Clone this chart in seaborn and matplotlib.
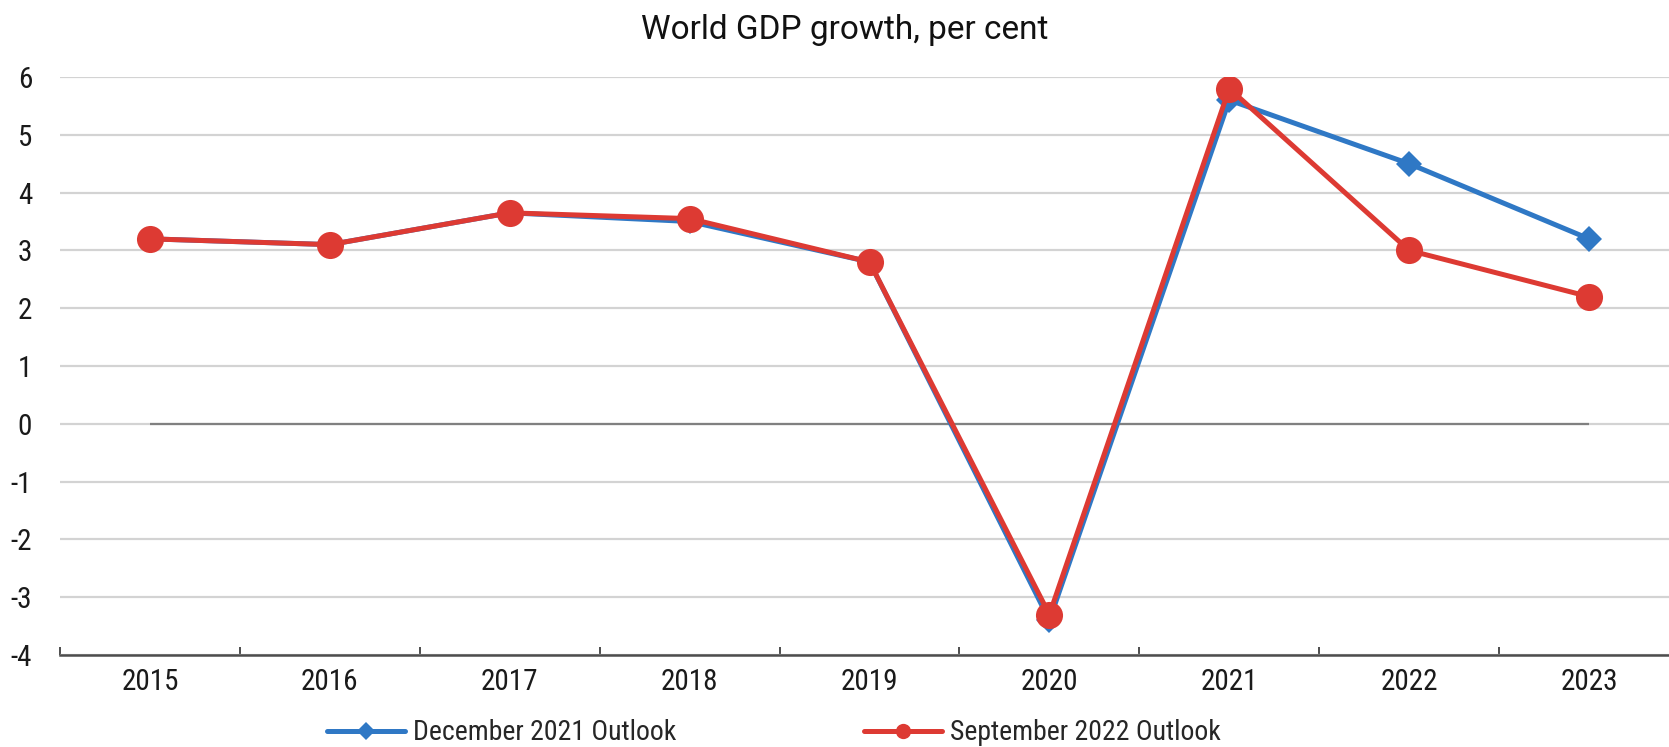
import matplotlib
matplotlib.use("Agg")
import matplotlib.pyplot as plt
from matplotlib.lines import Line2D
from matplotlib.ticker import FixedLocator
import seaborn as sns
import pandas as pd

# World GDP growth (per cent) by year, two OECD outlook vintages
years = ["2015", "2016", "2017", "2018", "2019", "2020", "2021", "2022", "2023"]
dec_2021 = [3.2, 3.1, 3.65, 3.5, 2.8, -3.4, 5.6, 4.5, 3.2]
sep_2022 = [3.2, 3.1, 3.65, 3.55, 2.8, -3.3, 5.8, 3.0, 2.2]
series_names = ["December 2021 Outlook", "September 2022 Outlook"]
y_ticks = [-4, -3, -2, -1, 0, 1, 2, 3, 4, 5, 6]
title = "World GDP growth, per cent"

BLUE = "#2F78C5"
RED = "#DD3A33"

sns.set_theme(style="white")
plt.rcParams["font.family"] = ["Roboto Condensed", "Liberation Sans", "DejaVu Sans"]

positions = list(range(len(years)))
df = pd.DataFrame({
    "pos": positions * 2,
    "growth": dec_2021 + sep_2022,
    "outlook": [series_names[0]] * len(years) + [series_names[1]] * len(years),
})

W, H = 1669, 747
fig = plt.figure(figsize=(W / 100, H / 100), dpi=100)
ax = fig.add_axes([60 / W, 92 / H, 1619 / W, 578 / H])

# zero reference line spanning first to last year
ax.hlines(0, positions[0], positions[-1], color="#808080", lw=1.6, zorder=1.5)

sns.lineplot(data=df[df.outlook == series_names[0]], x="pos", y="growth",
             color=BLUE, lw=3.6, marker="D", markersize=13, markeredgewidth=0,
             ax=ax, legend=False, zorder=3)
sns.lineplot(data=df[df.outlook == series_names[1]], x="pos", y="growth",
             color=RED, lw=3.6, marker="o", markersize=19.5, markeredgewidth=0,
             ax=ax, legend=False, zorder=4)

ax.set_xlim(-0.5, len(years) - 0.5)
ax.set_ylim(y_ticks[0], y_ticks[-1])
ax.set_xlabel("")
ax.set_ylabel("")

ax.set_xticks(positions)
ax.set_xticklabels(years)
ax.xaxis.set_minor_locator(FixedLocator([p - 0.5 for p in positions] + [positions[-1] + 0.5]))
ax.tick_params(axis="x", which="major", length=0, pad=9, labelsize=21, labelcolor="#1a1a1a")
ax.tick_params(axis="x", which="minor", direction="in", length=6, width=1.4, color="#4d4d4d", bottom=True)

ax.set_yticks(y_ticks)
ax.set_yticklabels([str(v) for v in y_ticks])
ax.tick_params(axis="y", length=0, pad=20, labelsize=21, labelcolor="#1a1a1a")

ax.yaxis.grid(True, color="#d3d3d3", lw=1.6)
ax.xaxis.grid(False)
ax.set_axisbelow(True)
for side in ["left", "right", "top"]:
    ax.spines[side].set_visible(False)
ax.spines["bottom"].set_color("#4d4d4d")
ax.spines["bottom"].set_linewidth(1.8)
ax.spines["bottom"].set_zorder(5)

fig.text(845 / W, 1 - 39 / H, title, ha="center", va="baseline", fontsize=24,
         family=["Roboto", "DejaVu Sans"], color="#111111")

handles = [
    Line2D([], [], color=BLUE, lw=3.6, marker="D", markersize=9, markeredgewidth=0),
    Line2D([], [], color=RED, lw=3.6, marker="o", markersize=11, markeredgewidth=0),
]
for handle, name, x0 in zip(handles, series_names, [327, 864]):
    fig.legend([handle], [name], loc="center left", bbox_to_anchor=(x0 / W, 1 - 733 / H),
               frameon=False, fontsize=20, handlelength=2.8, handletextpad=0.3,
               borderpad=0, borderaxespad=0)

fig.savefig("out.png", dpi=100)
